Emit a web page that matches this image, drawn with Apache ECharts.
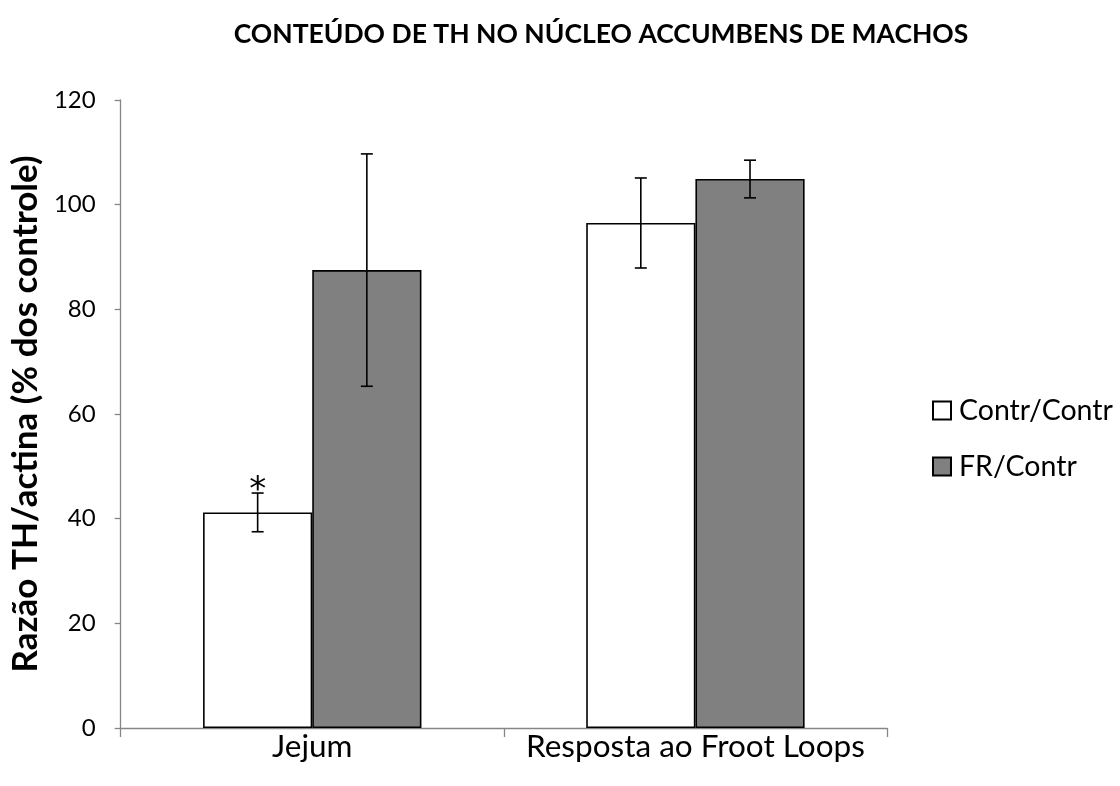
<!DOCTYPE html>
<html>
<head>
<meta charset="utf-8">
<style>
  html, body { margin: 0; padding: 0; background: #fff; }
  #chart { width: 1120px; height: 786px; }
</style>
<script src="https://cdn.jsdelivr.net/npm/echarts@6/dist/echarts.min.js"></script>
</head>
<body>
<div id="chart"></div>
<script>
// Groups on the x axis
const categories = ['Jejum', 'Resposta ao Froot Loops'];
// Series names
const seriesNames = ['Contr/Contr', 'FR/Contr'];
// Means (% of control) and their error half-widths
const contrMean = [41.2, 96.5];
const contrErr = [3.7, 8.6];
const frMean = [87.5, 104.9];
const frErr = [22.2, 3.6];
// Significance marks over the Contr/Contr bars
const contrMarks = ['*', ''];
// Y axis ticks
const yTicks = [0, 20, 40, 60, 80, 100, 120];

const FONT = 'Lato';
const GAP = 0.43; // category gap fraction

function errorSeries(name, means, errs, marks, side) {
  const data = means.map((m, i) => [i, m, errs[i], marks ? marks[i] : '']);
  return {
    type: 'custom',
    name: name + ' erro',
    z: 10,
    silent: true,
    data: data,
    encode: { x: 0, y: 1 },
    renderItem: function (params, api) {
      const cat = api.value(0);
      const mean = api.value(1);
      const err = api.value(2);
      const mark = data[params.dataIndex][3];
      const band = api.size([1, 0])[0];
      const offset = side * band * (1 - GAP) / 4;
      const top = api.coord([cat, mean + err]);
      const bot = api.coord([cat, mean - err]);
      const x = top[0] + offset;
      const cap = 6;
      const style = { stroke: '#000', lineWidth: 1.6, fill: null };
      const children = [
        { type: 'line', shape: { x1: x, y1: top[1], x2: x, y2: bot[1] }, style: style },
        { type: 'line', shape: { x1: x - cap, y1: top[1], x2: x + cap, y2: top[1] }, style: style },
        { type: 'line', shape: { x1: x - cap, y1: bot[1], x2: x + cap, y2: bot[1] }, style: style }
      ];
      if (mark) {
        children.push({
          type: 'text',
          style: {
            text: mark, x: x, y: top[1] + 15,
            align: 'center', verticalAlign: 'bottom',
            font: '34px "DejaVu Sans"', fill: '#000'
          }
        });
      }
      return { type: 'group', children: children };
    }
  };
}

const chart = echarts.init(document.getElementById('chart'), null, { renderer: 'canvas' });
chart.setOption({
  animation: false,
  backgroundColor: '#fff',
  textStyle: { fontFamily: FONT, color: '#000' },
  title: {
    text: 'CONTEÚDO DE TH NO NÚCLEO ACCUMBENS DE MACHOS',
    left: 596, top: 16, textAlign: 'center',
    textStyle: { fontFamily: FONT, fontWeight: 'bold', fontSize: 26.5, color: '#000' }
  },
  legend: {
    data: seriesNames,
    orient: 'vertical',
    left: 927, top: 391,
    itemWidth: 18, itemHeight: 18, itemGap: 27,
    icon: 'rect',
    textStyle: { fontFamily: FONT, fontSize: 28.5, color: '#000', padding: [0, 0, 0, 3] }
  },
  grid: { left: 117, right: 233, top: 100, bottom: 58, containLabel: false },
  xAxis: {
    type: 'category',
    data: categories,
    axisLine: { lineStyle: { color: '#868686', width: 1.3 } },
    axisTick: { show: true, length: 9, inside: false, lineStyle: { color: '#868686', width: 1.3 } },
    axisLabel: { interval: 0, fontFamily: FONT, fontSize: 31.5, color: '#000', margin: 3 }
  },
  yAxis: {
    type: 'value',
    min: yTicks[0], max: yTicks[yTicks.length - 1], interval: 20,
    name: 'Razão TH/actina (% dos controle)',
    nameLocation: 'middle', nameGap: 52, nameRotate: 90,
    nameTextStyle: { fontFamily: FONT, fontWeight: 'bold', fontSize: 35, color: '#000' },
    axisLine: { show: true, lineStyle: { color: '#868686', width: 1.3 } },
    axisTick: { show: true, length: 6, lineStyle: { color: '#868686', width: 1.3 } },
    splitLine: { show: false },
    axisLabel: { fontFamily: FONT, fontSize: 24, color: '#000', margin: 25 }
  },
  series: [
    {
      type: 'bar', name: seriesNames[0], data: contrMean,
      barGap: '0%', barCategoryGap: (GAP * 100) + '%',
      itemStyle: { color: '#ffffff', borderColor: '#000', borderWidth: 1.6 }
    },
    {
      type: 'bar', name: seriesNames[1], data: frMean,
      itemStyle: { color: '#808080', borderColor: '#000', borderWidth: 1.6 }
    },
    errorSeries(seriesNames[0], contrMean, contrErr, contrMarks, -1),
    errorSeries(seriesNames[1], frMean, frErr, null, 1)
  ]
});
</script>
</body>
</html>
